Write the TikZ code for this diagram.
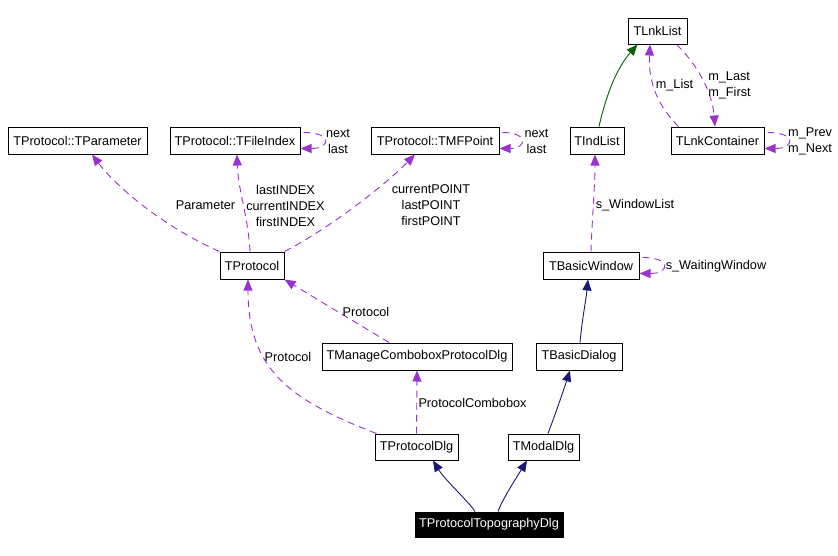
\documentclass[tikz,border=0pt]{standalone}
\usepackage{fontspec}
\setmainfont{Liberation Sans}
\usetikzlibrary{arrows.meta}
\definecolor{pe}{HTML}{9A32CD}
\definecolor{navy}{HTML}{191970}
\definecolor{dgreen}{HTML}{006400}
\begin{document}
\begin{tikzpicture}[x=1pt,y=-1pt,
  every node/.style={font=\fontsize{12.7}{16}\selectfont},
  cls/.style={draw=black, line width=1pt, inner sep=0pt, minimum height=27pt, fill=white},
  lbl/.style={inner sep=0pt, align=center, text=black},
  usage/.style={draw=pe, line width=0.9pt, dash pattern=on 7pt off 5pt, -{Triangle[length=11pt,width=9pt,fill=pe]}},
  inh/.style={draw=navy, line width=0.9pt, -{Triangle[length=11pt,width=9pt,fill=navy]}},
  tmpl/.style={draw=dgreen, line width=0.9pt, -{Triangle[length=11pt,width=9pt,fill=dgreen]}}]
\useasboundingbox (0,0) rectangle (838,555);
\fill[white] (0,0) rectangle (838,555);
% nodes
\node[cls, minimum width=139pt] (param) at (77.5,140.5) {TProtocol::TParameter};
\node[cls, minimum width=130pt] (fi) at (235,140.5) {TProtocol::TFileIndex};
\node[cls, minimum width=128pt] (mf) at (435,140.5) {TProtocol::TMFPoint};
\node[cls, minimum width=54pt] (ind) at (597,140.5) {TIndList};
\node[cls, minimum width=93pt] (lc) at (717.5,140.5) {TLnkContainer};
\node[cls, minimum width=59pt, minimum height=26pt] (ll) at (657.5,31) {TLnkList};
\node[cls, minimum width=96pt] (bw) at (591,265.5) {TBasicWindow};
\node[cls, minimum width=64pt] (proto) at (252,265.5) {TProtocol};
\node[cls, minimum width=190pt] (mc) at (417,356.5) {TManageComboboxProtocolDlg};
\node[cls, minimum width=86pt] (bd) at (579,356.5) {TBasicDialog};
\node[cls, minimum width=83pt, minimum height=26pt] (pd) at (416.5,447) {TProtocolDlg};
\node[cls, minimum width=71pt, minimum height=26pt] (md) at (543.5,447) {TModalDlg};
\node[cls, fill=black, text=white, minimum width=148pt, minimum height=25pt] (topo) at (489,524.5) {TProtocolTopographyDlg};
% usage edges
\draw[usage] (proto.north west) .. controls (160,225) and (115,185) .. ([xshift=14.5pt]param.south);
\draw[usage] ([xshift=-2pt]proto.north) .. controls (248,215) and (238,190) .. ([xshift=2pt]fi.south);
\draw[usage] (proto.north east) .. controls (330,228) and (385,185) .. ([xshift=-20pt]mf.south);
\draw[usage] ([xshift=-28pt]mc.north) .. controls (355,322) and (315,298) .. (proto.south east);
\draw[usage] ([xshift=2pt]pd.north west) .. controls (290,400) and (248,370) .. ([xshift=-4pt]proto.south);
\draw[usage] (pd.north) -- (mc.south);
\draw[usage] (bw.north) .. controls (592,220) and (595,185) .. ([xshift=-2pt]ind.south);
\draw[usage] ([xshift=8pt]lc.north west) .. controls (660,108) and (648,85) .. ([xshift=-7.5pt]ll.south);
\draw[usage] ([xshift=19pt]ll.south) .. controls (695,62) and (712,90) .. ([xshift=-2.5pt]lc.north);
% self loops
\draw[usage] ([xshift=3pt,yshift=8pt]fi.east) .. controls +(30,0) and +(30,0) .. ([yshift=-8pt]fi.east);
\draw[usage] ([xshift=3pt,yshift=8pt]mf.east) .. controls +(27,0) and +(27,0) .. ([yshift=-8pt]mf.east);
\draw[usage] ([xshift=3pt,yshift=8pt]lc.east) .. controls +(30,0) and +(30,0) .. ([yshift=-8pt]lc.east);
\draw[usage] ([xshift=3pt,yshift=8pt]bw.east) .. controls +(30,0) and +(30,0) .. ([yshift=-8pt]bw.east);
% inheritance
\draw[tmpl] ([xshift=2pt]ind.north) .. controls (605,100) and (615,70) .. ([xshift=-20pt]ll.south);
\draw[inh] ([xshift=1pt]bd.north) .. controls (582,320) and (586,300) .. ([xshift=-3pt]bw.south);
\draw[inh] ([xshift=4.5pt]md.north) .. controls (555,415) and (563,392) .. ([xshift=-9pt]bd.south);
\draw[inh] ([xshift=-14pt]topo.north) .. controls (470,503) and (445,480) .. ([xshift=16.5pt]pd.south);
\draw[inh] ([xshift=9pt]topo.north) .. controls (502,500) and (515,480) .. ([xshift=-16.5pt]md.south);
% labels
\node[lbl] (lparam) at (205.5,205.5) {Parameter};
\node[lbl] (lidx) at (285.5,205.5) {lastINDEX\\currentINDEX\\firstINDEX};
\node[lbl] (lpt) at (431,205.5) {currentPOINT\\lastPOINT\\firstPOINT};
\node[lbl] (lfi) at (338,141) {next\\last};
\node[lbl] (lmf) at (536.5,141) {next\\last};
\node[lbl, anchor=west, align=left] (llc) at (788,141) {m\_Prev\\m\_Next};
\node[lbl] (lmlist) at (674.5,85) {m\_List};
\node[lbl, align=left] (lmlast) at (729.5,85) {m\_Last\\m\_First};
\node[lbl] (lwl) at (635,205.5) {s\_WindowList};
\node[lbl] (lww) at (716,266) {s\_WaitingWindow};
\node[lbl] (lp1) at (366,311.5) {Protocol};
\node[lbl] (lp2) at (288,357) {Protocol};
\node[lbl] (lpc) at (472.5,402.5) {ProtocolCombobox};
\end{tikzpicture}
\end{document}
